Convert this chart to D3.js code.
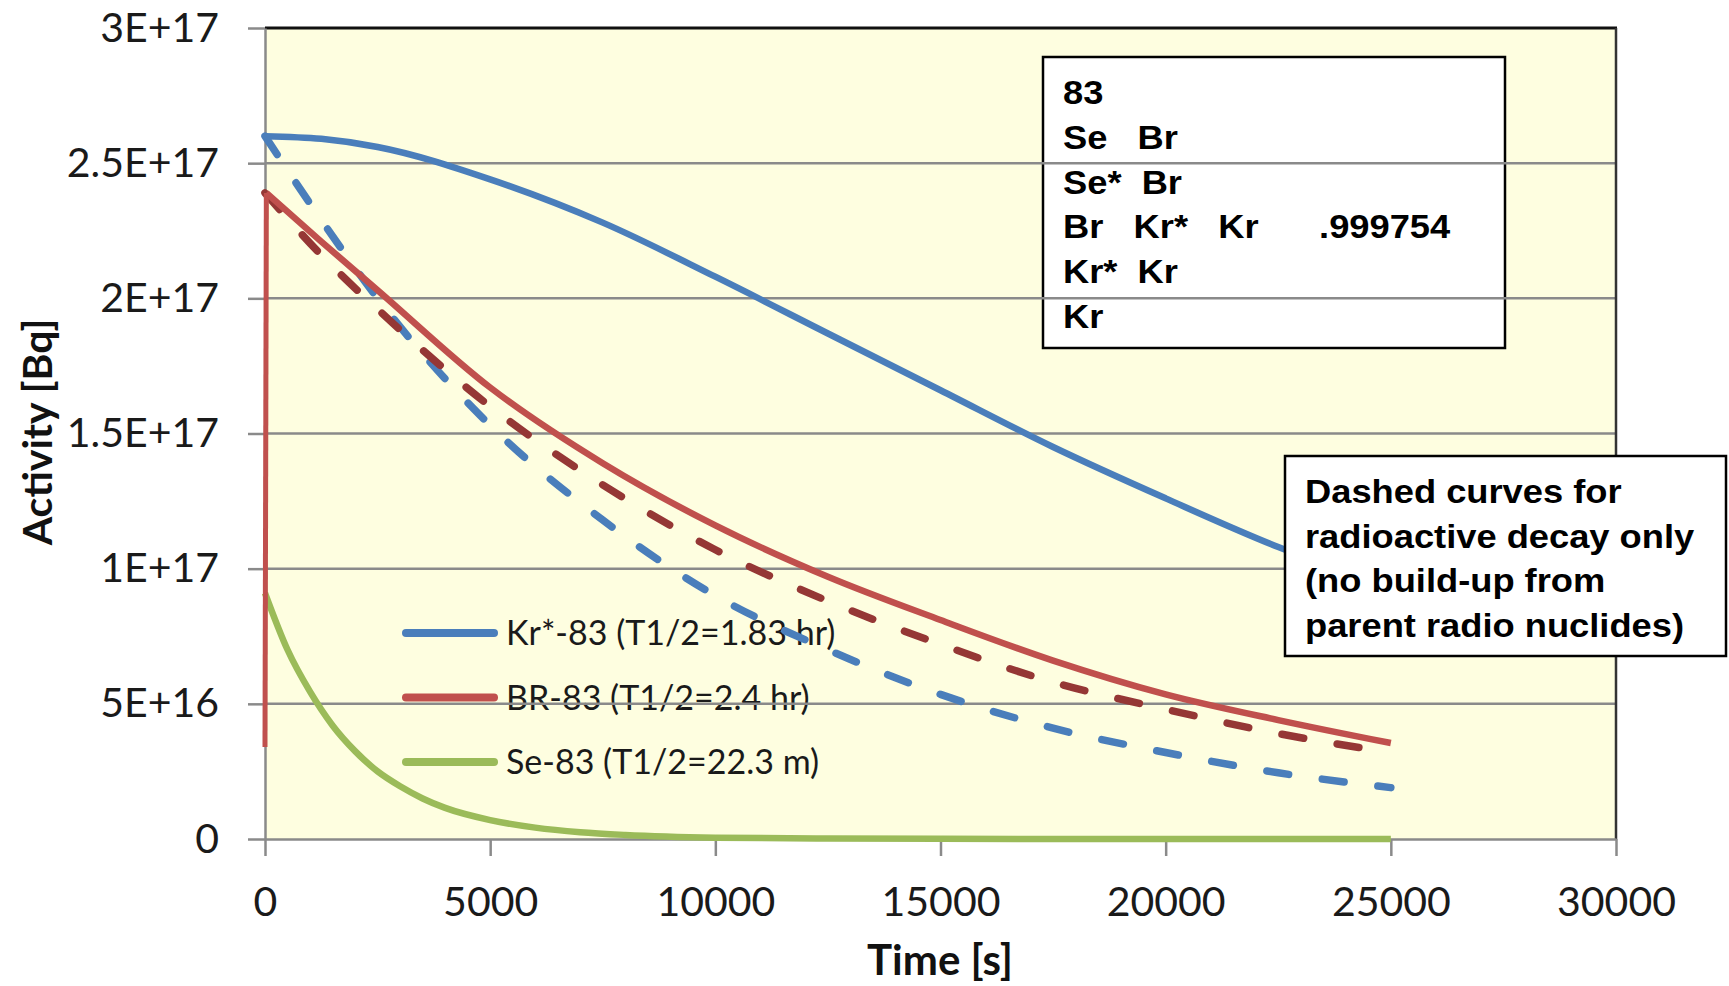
<!DOCTYPE html>
<html>
<head>
<meta charset="utf-8">
<script src="https://cdn.jsdelivr.net/npm/d3@7"></script>
<style>
  html, body { margin: 0; padding: 0; background: #fff; }
  svg { display: block; }
</style>
</head>
<body>
<div id="chart"></div>
<script>
// ---- data ----
const timeTicks = [0, 5000, 10000, 15000, 20000, 25000, 30000];
const activityTicks = [0, 5e16, 1e17, 1.5e17, 2e17, 2.5e17, 3e17];
const activityTickLabels = ['0', '5E+16', '1E+17', '1.5E+17', '2E+17', '2.5E+17', '3E+17'];

const decayTime = [0, 1250, 2500, 5000, 7500, 10000, 12500, 15000, 17500, 20000, 22500, 25000];
const krSolid  = [2.60e17, 2.59e17, 2.56e17, 2.44e17, 2.28e17, 2.08e17, 1.87e17, 1.66e17, 1.45e17, 1.26e17, 1.08e17, 0.93e17];
const krDashed = [2.60e17, 2.29e17, 2.00e17, 1.53e17, 1.18e17, 0.90e17, 0.70e17, 0.535e17, 0.41e17, 0.32e17, 0.245e17, 0.19e17];
const brDashed = [2.39e17, 2.16e17, 1.96e17, 1.60e17, 1.31e17, 1.07e17, 0.88e17, 0.72e17, 0.58e17, 0.48e17, 0.39e17, 0.32e17];

// Br-83 jumps up at the very start, then decays
const brTime  = [0, 30, 1250, 2500, 5000, 7500, 10000, 12500, 15000, 17500, 20000, 22500, 25000];
const brSolid = [0.34e17, 2.39e17, 2.21e17, 2.03e17, 1.67e17, 1.39e17, 1.16e17, 0.97e17, 0.81e17, 0.66e17, 0.535e17, 0.44e17, 0.355e17];

const seTime  = [0, 500, 1000, 1500, 2000, 2500, 3000, 3500, 4000, 5000, 6000, 7000, 8000, 10000, 12500, 15000, 20000, 25000];
const seSolid = [0.91e17, 0.70e17, 0.545e17, 0.42e17, 0.325e17, 0.25e17, 0.195e17, 0.15e17, 0.115e17, 0.07e17, 0.042e17, 0.025e17, 0.015e17, 0.005e17, 0.0015e17, 0.0005e17, 0, 0];

const legendNames = ['Kr*-83 (T1/2=1.83 hr)', 'BR-83 (T1/2=2.4 hr)', 'Se-83 (T1/2=22.3 m)'];
const chainLines = ['83', 'Se   Br', 'Se*  Br', 'Br   Kr*   Kr      .999754', 'Kr*  Kr', 'Kr'];
const noteLines = ['Dashed curves for', 'radioactive decay only', '(no build-up from', 'parent radio nuclides)'];

// ---- layout ----
const W = 1729, H = 986;
const plot = { left: 265, top: 28, right: 1616, bottom: 839 };
const BLUE = '#4a7ebb', RED = '#c0504d', DARKRED = '#953735', GREEN = '#9bbb59';
const GRID = '#8a8a8a';

const x = d3.scaleLinear().domain([0, 30000]).range([plot.left, plot.right]);
const y = d3.scaleLinear().domain([0, 3e17]).range([plot.bottom, plot.top]);

const svg = d3.select('#chart').append('svg')
    .attr('width', W).attr('height', H);

svg.append('rect').attr('width', W).attr('height', H).attr('fill', '#fff');

// plot background
svg.append('rect')
    .attr('x', plot.left).attr('y', plot.top)
    .attr('width', plot.right - plot.left).attr('height', plot.bottom - plot.top)
    .attr('fill', '#fefee0');

// boxed bold text; the source picture is stretched sideways, hence scale()
function textBox(x0, y0, w, h, lines, tx, ty, lineH) {
    const g = svg.append('g');
    g.append('rect')
        .attr('x', x0).attr('y', y0).attr('width', w).attr('height', h)
        .attr('fill', '#fff').attr('stroke', '#000').attr('stroke-width', 2.5);
    lines.forEach((line, i) => {
        g.append('text')
            .attr('transform', `translate(${tx}, ${ty + i * lineH}) scale(1.1, 1)`)
            .attr('font-family', '"Liberation Sans", Arial, sans-serif')
            .attr('font-weight', 'bold')
            .attr('font-size', 33)
            .attr('fill', '#000')
            .style('white-space', 'pre')
            .text(line);
    });
    return g;
}
// decay chain box (gridlines run over it in the reference)
textBox(1043, 57, 462, 291, chainLines, 1063, 104, 44.8);

// legend
const legend = svg.append('g');
[BLUE, RED, GREEN].forEach((c, i) => {
    const ly = 633 + i * 64.5;
    legend.append('line')
        .attr('x1', 406).attr('x2', 494).attr('y1', ly).attr('y2', ly)
        .attr('stroke', c).attr('stroke-width', 8).attr('stroke-linecap', 'round');
    legend.append('text')
        .attr('x', 506).attr('y', ly)
        .attr('dy', '0.36em')
        .attr('font-family', 'Lato, "Open Sans", sans-serif')
        .attr('font-size', 34)
        .attr('fill', '#1a1a1a')
        .text(legendNames[i]);
});

// horizontal gridlines
svg.append('g')
    .selectAll('line')
    .data(activityTicks.filter(v => v > 0 && v < 3e17))
    .join('line')
    .attr('x1', plot.left).attr('x2', plot.right)
    .attr('y1', d => y(d)).attr('y2', d => y(d))
    .attr('stroke', GRID).attr('stroke-width', 2.5);

// plot frame (top and right are dark)
svg.append('line')
    .attr('x1', plot.left).attr('x2', plot.right + 1)
    .attr('y1', plot.top).attr('y2', plot.top)
    .attr('stroke', '#111').attr('stroke-width', 3);
svg.append('line')
    .attr('x1', plot.right).attr('x2', plot.right)
    .attr('y1', plot.top).attr('y2', plot.bottom)
    .attr('stroke', '#333').attr('stroke-width', 2.5);

// axes
const yAxis = d3.axisLeft(y)
    .tickValues(activityTicks)
    .tickFormat((d, i) => activityTickLabels[i])
    .tickSize(17).tickSizeOuter(0).tickPadding(29);
const xAxis = d3.axisBottom(x)
    .tickValues(timeTicks)
    .tickFormat(d => String(d))
    .tickSize(17).tickSizeOuter(0).tickPadding(31);

function styleAxis(g) {
    g.select('.domain').attr('stroke', GRID).attr('stroke-width', 2.5);
    g.selectAll('.tick line').attr('stroke', GRID).attr('stroke-width', 2.5);
    g.selectAll('.tick text')
        .attr('font-family', 'Lato, "Open Sans", sans-serif')
        .attr('font-size', 41)
        .attr('fill', '#1a1a1a');
}
svg.append('g').attr('transform', `translate(${plot.left},0)`).call(yAxis).call(styleAxis);
svg.append('g').attr('transform', `translate(0,${plot.bottom})`).call(xAxis).call(styleAxis);

// axis titles
svg.append('text')
    .attr('transform', `translate(52, 432) rotate(-90)`)
    .attr('text-anchor', 'middle')
    .attr('font-family', 'Lato, "Open Sans", sans-serif')
    .attr('font-weight', 'bold')
    .attr('font-size', 41)
    .attr('fill', '#111')
    .text('Activity [Bq]');
svg.append('text')
    .attr('x', 940).attr('y', 975)
    .attr('text-anchor', 'middle')
    .attr('font-family', 'Lato, "Open Sans", sans-serif')
    .attr('font-weight', 'bold')
    .attr('font-size', 42)
    .attr('fill', '#111')
    .text('Time [s]');

// curves
const smooth = d3.line()
    .x(d => x(d[0]))
    .y(d => y(d[1]))
    .curve(d3.curveMonotoneX);
const straight = d3.line()
    .x(d => x(d[0]))
    .y(d => y(d[1]));

function drawCurve(t, v, color, dash) {
    const pts = t.map((tt, i) => [tt, v[i]]);
    svg.append('path')
        .attr('d', smooth(pts))
        .attr('fill', 'none')
        .attr('stroke', color)
        .attr('stroke-width', dash ? 7.5 : 6.5)
        .attr('stroke-linecap', dash ? 'round' : 'butt')
        .attr('stroke-linejoin', 'round')
        .attr('stroke-dasharray', dash);
}

drawCurve(decayTime, krDashed, BLUE, '22 34');
drawCurve(decayTime, brDashed, DARKRED, '22 34');
drawCurve(seTime, seSolid, GREEN, null);

// Br-83: straight jump at t=0, then the smooth decay
svg.append('path')
    .attr('d', straight([[brTime[0], brSolid[0]], [brTime[1], brSolid[1]]]))
    .attr('fill', 'none').attr('stroke', RED).attr('stroke-width', 5);
drawCurve(brTime.slice(1), brSolid.slice(1), RED, null);

drawCurve(decayTime, krSolid, BLUE, null);

// note box sits on top of everything
textBox(1285, 456, 441, 200, noteLines, 1305, 503, 44.5);
</script>
</body>
</html>
